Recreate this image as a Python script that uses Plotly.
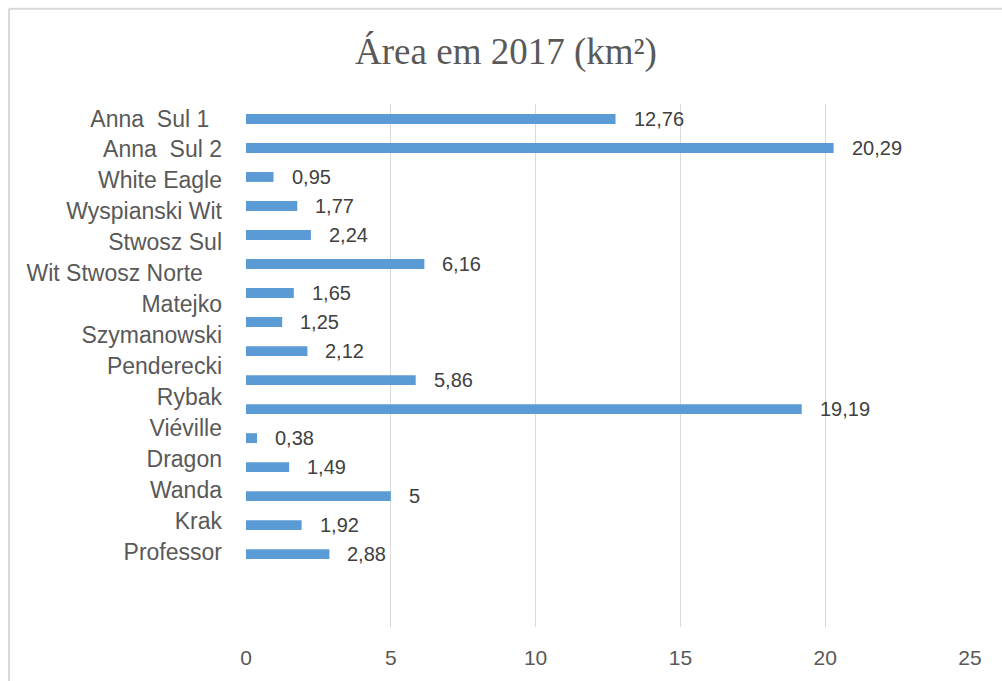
import plotly.graph_objects as go

NB = "\u00a0"
# category labels (15, as shown on the reference axis) and bar values (16 bars)
categories = ["Anna" + NB + NB + "Sul 1" + NB + NB, "Anna" + NB + NB + "Sul 2", "White Eagle", "Wyspianski Wit",
              "Stwosz Sul", "Wit Stwosz Norte" + NB + NB + NB, "Matejko", "Szymanowski", "Penderecki", "Rybak",
              "Viéville", "Dragon", "Wanda", "Krak", "Professor"]
values = [12.76, 20.29, 0.95, 1.77, 2.24, 6.16, 1.65, 1.25, 2.12, 5.86, 19.19, 0.38, 1.49, 5, 1.92, 2.88]
value_labels = ["12,76", "20,29", "0,95", "1,77", "2,24", "6,16", "1,65", "1,25", "2,12", "5,86",
                "19,19", "0,38", "1,49", "5", "1,92", "2,88"]
x_ticks = [0, 5, 10, 15, 20, 25]
title = "Área em 2017 (km²)"

bar_pos = list(range(len(values)))
cat_pos = list(range(len(categories)))

fig = go.Figure()
fig.add_trace(go.Bar(
    x=values, y=bar_pos, orientation="h",
    marker=dict(color="#5b9bd5", line=dict(width=0)),
    width=0.34, hoverinfo="x",
))
# invisible trace carrying the category-label axis
fig.add_trace(go.Scatter(
    x=[0] * len(categories), y=cat_pos, yaxis="y2", mode="markers",
    marker=dict(opacity=0), hoverinfo="skip", showlegend=False,
))

annotations = [
    dict(x=v, y=p, xref="x", yref="y", text=t, showarrow=False, xanchor="left", yanchor="middle",
         xshift=16, font=dict(family="Liberation Sans, Arial", size=20, color="#404040"))
    for v, p, t in zip(values, bar_pos, value_labels)
]

fig.update_layout(
    width=1002, height=681,
    margin=dict(l=246, r=32, t=104, b=52),
    paper_bgcolor="white", plot_bgcolor="white",
    showlegend=False,
    title=dict(text=title, x=0.505, xanchor="center", y=0.925, yanchor="middle",
               font=dict(family="Liberation Serif, Times New Roman", size=37, color="#595959")),
    xaxis=dict(range=[0, 25], tickvals=x_ticks, ticktext=[str(t) for t in x_ticks],
               showgrid=True, gridcolor="#d9d9d9", gridwidth=1.3, zeroline=False,
               showline=False, ticks="", ticklabelstandoff=16,
               tickfont=dict(family="Liberation Sans, Arial", size=21, color="#595959")),
    yaxis=dict(range=[17.51, -0.515], showticklabels=False,
               showgrid=False, zeroline=False, showline=False, ticks=""),
    yaxis2=dict(range=[16.43, -0.467], overlaying="y", anchor="x", side="left",
                tickvals=cat_pos, ticktext=categories,
                showgrid=False, zeroline=False, showline=False, ticks="", ticklabelstandoff=23,
                tickfont=dict(family="Liberation Sans, Arial", size=23, color="#595959")),
    annotations=annotations,
    shapes=[
        dict(type="line", xref="paper", yref="paper", x0=(9 - 246) / 724, x1=1.1,
             y0=(629 - 8.5) / 525, y1=(629 - 8.5) / 525, line=dict(color="#d9d9d9", width=2)),
        dict(type="line", xref="paper", yref="paper", x0=(9 - 246) / 724, x1=(9 - 246) / 724,
             y0=(629 - 8.5) / 525, y1=-0.2, line=dict(color="#d9d9d9", width=2)),
    ],
)

fig.write_html("out.html")
